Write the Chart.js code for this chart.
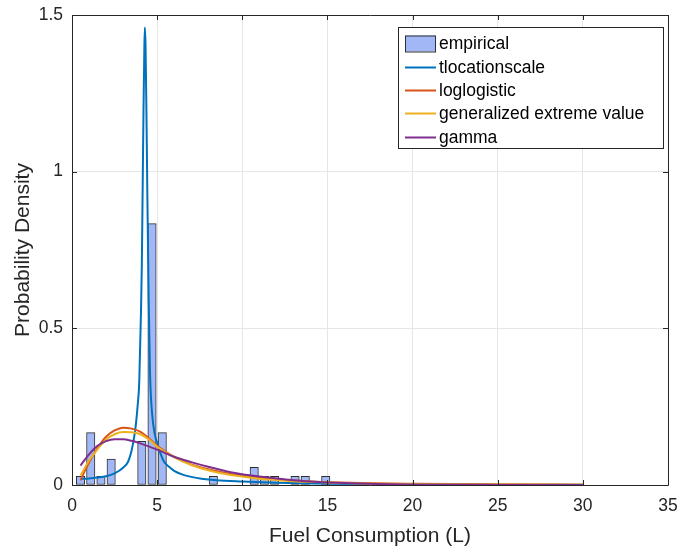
<!DOCTYPE html>
<html>
<head>
<meta charset="utf-8">
<script src="https://cdn.jsdelivr.net/npm/chart.js@4.4.1/dist/chart.umd.min.js"></script>
<style>
  html, body { margin: 0; padding: 0; background: #fff; }
  #wrap { width: 683px; height: 552px; }
</style>
</head>
<body>
<div id="wrap"><canvas id="c" width="683" height="552"></canvas></div>
<script>
// Histogram of fuel consumption (bin width 0.6 L), as probability density
const binCenters = [0.5, 1.1, 1.7, 2.3, 4.1, 4.7, 5.3, 8.3, 10.7, 11.3, 11.9, 13.1, 13.7, 14.9];
const binDensity = [0.028, 0.167, 0.028, 0.083, 0.139, 0.834, 0.167, 0.028, 0.056, 0.028, 0.028, 0.028, 0.028, 0.028];

// Fitted density curves
const tlsX = [0.5, 1.0, 1.5, 2.0, 2.5, 3.0, 3.3, 3.5, 3.7, 3.85, 3.95, 4.05, 4.1, 4.15, 4.2, 4.25, 4.28, 4.32, 4.38, 4.42, 4.5, 4.58, 4.7, 4.87, 5.0, 5.2, 5.4, 5.7, 6.0, 6.5, 7.0, 7.6, 8.5, 10, 12, 15, 20, 25, 30];
const tlsY = [0.019, 0.021, 0.024, 0.028, 0.037, 0.055, 0.075, 0.11, 0.17, 0.25, 0.33, 0.55, 0.70, 0.95, 1.20, 1.40, 1.46, 1.40, 1.15, 0.95, 0.60, 0.36, 0.23, 0.16, 0.135, 0.10, 0.075, 0.058, 0.045, 0.033, 0.026, 0.020, 0.015, 0.011, 0.007, 0.004, 0.002, 0.001, 0.001];

const llX = [0.5, 0.75, 1.0, 1.5, 2.0, 2.5, 3.0, 3.5, 4.0, 4.5, 5.0, 6.0, 7.0, 8.0, 9.0, 10, 11, 12, 13, 14, 15, 17, 20, 25, 30];
const llY = [0.015, 0.045, 0.072, 0.118, 0.154, 0.174, 0.183, 0.180, 0.170, 0.150, 0.125, 0.090, 0.066, 0.050, 0.038, 0.030, 0.023, 0.018, 0.014, 0.011, 0.009, 0.006, 0.004, 0.002, 0.001];

const gevX = [0.5, 1.0, 1.5, 2.0, 2.5, 3.0, 3.5, 4.0, 4.5, 5.0, 6.0, 7.0, 8.0, 9.0, 10, 11, 12, 13, 14, 15, 17, 20, 25, 30];
const gevY = [0.030, 0.078, 0.114, 0.145, 0.162, 0.169, 0.168, 0.162, 0.146, 0.122, 0.088, 0.064, 0.047, 0.035, 0.027, 0.020, 0.016, 0.012, 0.010, 0.008, 0.005, 0.003, 0.0015, 0.001];

const gamX = [0.5, 1.0, 1.5, 2.0, 2.5, 3.0, 3.5, 4.0, 5.0, 6.0, 7.0, 8.0, 9.0, 10, 11, 12, 13, 14, 15, 16, 18, 20, 25, 30];
const gamY = [0.062, 0.098, 0.125, 0.140, 0.146, 0.146, 0.141, 0.133, 0.113, 0.090, 0.073, 0.058, 0.045, 0.034, 0.027, 0.021, 0.015, 0.011, 0.008, 0.006, 0.003, 0.0015, 0.0003, 0.0];

const xTicks = [0, 5, 10, 15, 20, 25, 30, 35];
const yTicks = [0, 0.5, 1, 1.5];

const pts = (xs, ys) => xs.map((x, i) => ({ x: x, y: ys[i] }));

const AXIS = '#262626';
const FONT = '"Liberation Sans", Arial, Helvetica, sans-serif';

// Box around the axes with inward tick marks on all four sides
const boxTicks = {
  id: 'boxTicks',
  afterDatasetsDraw(chart) {
    const { ctx, chartArea: a, scales: { x, y } } = chart;
    ctx.save();
    ctx.strokeStyle = AXIS;
    ctx.lineWidth = 1;
    ctx.beginPath();
    ctx.rect(Math.round(a.left) + 0.5, Math.round(a.top) + 0.5, Math.round(a.right - a.left), Math.round(a.bottom - a.top));
    ctx.stroke();
    const L = 5;
    ctx.beginPath();
    xTicks.forEach(v => {
      const px = Math.round(x.getPixelForValue(v)) + 0.5;
      ctx.moveTo(px, a.bottom); ctx.lineTo(px, a.bottom - L);
      ctx.moveTo(px, a.top); ctx.lineTo(px, a.top + L);
    });
    yTicks.forEach(v => {
      const py = Math.round(y.getPixelForValue(v)) + 0.5;
      ctx.moveTo(a.left, py); ctx.lineTo(a.left + L, py);
      ctx.moveTo(a.right, py); ctx.lineTo(a.right - L, py);
    });
    ctx.stroke();
    ctx.restore();
  }
};

// Legend box placed inside the upper-right of the axes
const insideLegend = {
  id: 'insideLegend',
  afterDraw(chart) {
    const { ctx } = chart;
    const ds = chart.data.datasets;
    const left = 398, top = 27, right = 663, bottom = 148;
    ctx.save();
    ctx.fillStyle = '#fff';
    ctx.fillRect(left, top, right - left, bottom - top);
    ctx.strokeStyle = AXIS;
    ctx.lineWidth = 1;
    ctx.strokeRect(left + 0.5, top + 0.5, right - left, bottom - top);
    ctx.font = '17.5px ' + FONT;
    ctx.textBaseline = 'middle';
    ctx.textAlign = 'left';
    const rowY0 = 43.5, step = 23.3;
    ds.forEach((d, i) => {
      const cy = rowY0 + i * step;
      if (d.type === 'bar') {
        ctx.fillStyle = d.backgroundColor;
        ctx.fillRect(405, cy - 8, 31, 16);
        ctx.strokeStyle = d.borderColor;
        ctx.lineWidth = 1;
        ctx.strokeRect(405.5, cy - 8 + 0.5, 30, 16);
      } else {
        ctx.strokeStyle = d.borderColor;
        ctx.lineWidth = 2;
        ctx.beginPath();
        ctx.moveTo(405, Math.round(cy) + 0.5);
        ctx.lineTo(436, Math.round(cy) + 0.5);
        ctx.stroke();
      }
      ctx.fillStyle = '#000';
      ctx.fillText(d.label, 439, cy + 1);
    });
    ctx.restore();
  }
};

const lineDs = (label, xs, ys, color, order) => ({
  type: 'line',
  label: label,
  data: pts(xs, ys),
  borderColor: color,
  backgroundColor: color,
  borderWidth: 2,
  pointRadius: 0,
  fill: false,
  cubicInterpolationMode: 'monotone',
  order: order
});

new Chart(document.getElementById('c'), {
  data: {
    datasets: [
      {
        type: 'bar',
        label: 'empirical',
        data: pts(binCenters, binDensity),
        backgroundColor: '#a1b7f6',
        borderColor: '#303030',
        borderWidth: 1,
        borderSkipped: false,
        barThickness: 8.4,
        order: 10
      },
      lineDs('tlocationscale', tlsX, tlsY, '#0072BD', 4),
      lineDs('loglogistic', llX, llY, '#D95319', 3),
      lineDs('generalized extreme value', gevX, gevY, '#EDB120', 2),
      lineDs('gamma', gamX, gamY, '#7E2F8E', 1)
    ]
  },
  options: {
    responsive: false,
    animation: false,
    layout: { padding: { left: 0, top: 15, right: 15, bottom: 0 } },
    plugins: {
      legend: { display: false },
      tooltip: { enabled: false }
    },
    scales: {
      x: {
        type: 'linear',
        offset: false,
        min: 0, max: 35,
        afterBuildTicks: s => { s.ticks = xTicks.map(v => ({ value: v })); },
        afterFit: s => { s.height = 67; s.paddingLeft = 0; s.paddingRight = 0; },
        ticks: { color: AXIS, font: { family: FONT, size: 17.5 }, padding: 11, maxRotation: 0 },
        grid: { color: '#e6e6e6', drawTicks: false, lineWidth: 1, offset: false },
        border: { display: false },
        title: { display: true, text: 'Fuel Consumption (L)', color: AXIS, font: { family: FONT, size: 21 }, padding: { top: 4, bottom: 3 } }
      },
      y: {
        type: 'linear',
        min: 0, max: 1.5,
        afterBuildTicks: s => { s.ticks = yTicks.map(v => ({ value: v })); },
        afterFit: s => { s.width = 72; s.paddingTop = 0; s.paddingBottom = 0; },
        ticks: {
          color: AXIS, font: { family: FONT, size: 17.5 }, padding: 9,
          callback: v => String(v)
        },
        grid: { color: '#e6e6e6', drawTicks: false, lineWidth: 1 },
        border: { display: false },
        title: { display: true, text: 'Probability Density', color: AXIS, font: { family: FONT, size: 21 }, padding: { top: 11, bottom: 0 } }
      }
    }
  },
  plugins: [boxTicks, insideLegend]
});
</script>
</body>
</html>
